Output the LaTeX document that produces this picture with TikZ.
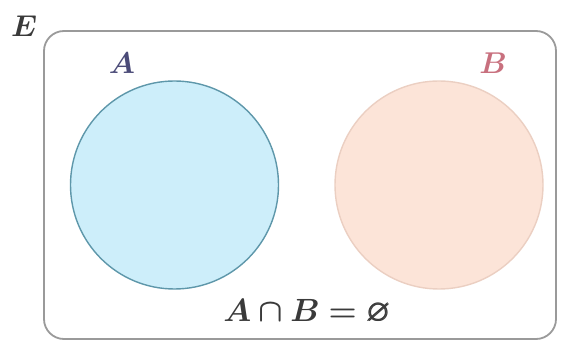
\documentclass[tikz,border=0pt]{standalone}
\usepackage{amssymb}
\usepackage{bm}
\definecolor{frame}{HTML}{9A9A9A}
\definecolor{afill}{HTML}{CDEEFA}
\definecolor{aline}{HTML}{5E97AA}
\definecolor{bfill}{HTML}{FCE4D8}
\definecolor{bline}{HTML}{EBCFC2}
\definecolor{alabel}{HTML}{4B4B78}
\definecolor{blabel}{HTML}{C8707E}
\definecolor{elabel}{HTML}{3A3A3A}
\newcommand{\biglbl}[2]{\scalebox{#1}{\fontsize{20.74}{24}\selectfont #2}}
\tikzset{
  lbl/.style={inner sep=0pt},
  setcircle/.style={circle, minimum size=208pt, inner sep=0pt, line width=1.4pt}
}
\begin{document}
\begin{tikzpicture}[x=1pt,y=-1pt]
\useasboundingbox (0,0) rectangle (562,347);
\node[draw=frame, line width=1.8pt, rounded corners=20pt, minimum width=512pt, minimum height=308pt, inner sep=0pt] (E) at (300,185) {};
\node[setcircle, draw=aline, fill=afill] (A) at (174.5,185) {};
\node[setcircle, draw=bline, fill=bfill] (B) at (439,185) {};
\node[lbl, text=elabel] (Elbl) at (24,26) {\biglbl{1.45}{$\bm{E}$}};
\node[lbl, text=alabel] (Albl) at (122,63) {\biglbl{1.45}{$\bm{A}$}};
\node[lbl, text=blabel] (Blbl) at (493,63) {\biglbl{1.45}{$\bm{B}$}};
\node[lbl, text=elabel] (eq) at (307,312) {\biglbl{1.55}{$\bm{A\cap B=}\vcenter{\hbox{\fontsize{19.5}{22}\selectfont$\bm{\varnothing}$}}$}};
\end{tikzpicture}
\end{document}
